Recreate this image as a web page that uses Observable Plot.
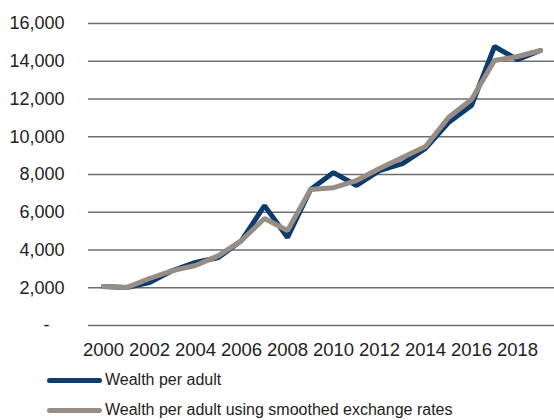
<!DOCTYPE html>
<html>
<head>
<meta charset="utf-8">
<script src="https://cdn.jsdelivr.net/npm/d3@7"></script>
<script src="https://cdn.jsdelivr.net/npm/@observablehq/plot@0.6"></script>
<style>
  body { margin: 0; background: #fff; font-family: "Liberation Sans", Arial, sans-serif; }
  #chart svg { display: block; }
  .legend { position: relative; height: 60px; }
  .item { position: absolute; left: 47px; display: flex; align-items: center; font-size: 16px; color: #222; }
  .swatch { width: 55px; height: 5px; border-radius: 3px; margin-right: 3px; }
</style>
</head>
<body>
<div id="chart"></div>
<div class="legend" id="legend"></div>
<script>
const years = [2000,2001,2002,2003,2004,2005,2006,2007,2008,2009,2010,2011,2012,2013,2014,2015,2016,2017,2018,2019];
const wealth = [2070,2010,2280,2910,3340,3600,4500,6350,4660,7200,8100,7420,8210,8580,9380,10750,11650,14780,14090,14570];
const smoothed = [2070,2010,2490,2910,3180,3700,4500,5670,5030,7200,7300,7680,8320,8900,9480,11020,11970,14040,14250,14570];
const yTicks = [0,2000,4000,6000,8000,10000,12000,14000,16000];
const xTicks = [2000,2002,2004,2006,2008,2010,2012,2014,2016,2018];
const seriesNames = ["Wealth per adult", "Wealth per adult using smoothed exchange rates"];
const colors = ["#0b3c6b", "#978d85"];

const data = [];
years.forEach((y, i) => {
  data.push({year: y, value: wealth[i], series: seriesNames[0]});
  data.push({year: y, value: smoothed[i], series: seriesNames[1]});
});

const chart = Plot.plot({
  width: 554,
  height: 360,
  marginLeft: 88,
  marginRight: 0,
  marginTop: 23,
  marginBottom: 35,
  style: {fontFamily: "Liberation Sans, Arial, sans-serif", color: "#222", background: "#fff"},
  x: {type: "point", domain: years, padding: 0.5},
  y: {domain: [0, 16000]},
  color: {domain: seriesNames, range: colors},
  marks: [
    Plot.ruleY(yTicks, {stroke: "#6e6e6e", strokeWidth: 1.3, strokeOpacity: 1}),
    Plot.axisY({ticks: yTicks, tickSize: 0, tickPadding: 24, fontSize: 18, label: null,
      tickFormat: d => d === 0 ? "-\u00a0\u00a0\u00a0" : d3.format(",")(d)}),
    Plot.axisX({ticks: xTicks, tickSize: 0, tickPadding: 17, fontSize: 18.5, label: null, tickFormat: d => String(d)}),
    Plot.lineY(data, {x: "year", y: "value", stroke: "series", strokeWidth: 5, strokeLinejoin: "miter", strokeLinecap: "round"})
  ]
});
document.getElementById("chart").appendChild(chart);

const legend = document.getElementById("legend");
seriesNames.forEach((name, i) => {
  const item = document.createElement("div");
  item.className = "item";
  item.style.top = (i === 0 ? 11 : 41) + "px";
  const sw = document.createElement("div");
  sw.className = "swatch";
  sw.style.background = colors[i];
  const label = document.createElement("span");
  label.textContent = name;
  item.appendChild(sw);
  item.appendChild(label);
  legend.appendChild(item);
});
</script>
</body>
</html>
